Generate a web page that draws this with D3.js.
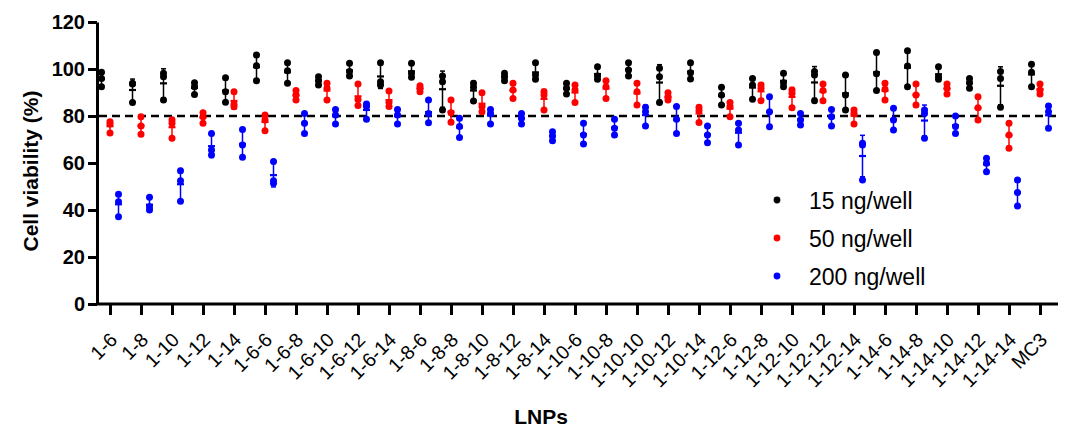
<!DOCTYPE html>
<html>
<head>
<meta charset="utf-8">
<script src="https://cdn.jsdelivr.net/npm/d3@7"></script>
<style>
  body { margin: 0; background: #fff; }
  svg text { font-family: Arial, "Liberation Sans", sans-serif; }
</style>
</head>
<body>
<svg id="chart" width="1067" height="432"></svg>
<script>
// LNP names along the x axis
var lnps = ["1-6","1-8","1-10","1-12","1-14","1-6-6","1-6-8","1-6-10","1-6-12","1-6-14",
    "1-8-6","1-8-8","1-8-10","1-8-12","1-8-14","1-10-6","1-10-8","1-10-10","1-10-12","1-10-14",
    "1-12-6","1-12-8","1-12-10","1-12-12","1-12-14","1-14-6","1-14-8","1-14-10","1-14-12","1-14-14","MC3"];

// triplicate viability values (%) per LNP
var ng15 = [
    [98.6,96.0,92.5],[93.9,93.6,85.7],[98.2,96.7,86.8],[94.2,92.5,89.2],[96.3,90.3,85.8],
    [106.0,101.4,95.0],[102.7,99.3,93.9],[96.7,95.0,93.2],[102.4,98.9,97.0],[102.7,94.6,93.2],
    [102.4,98.2,96.5],[97.0,94.6,82.6],[93.9,92.2,86.4],[98.2,96.7,95.0],[102.7,97.4,95.6],
    [93.9,91.8,89.4],[101.0,97.0,95.6],[102.7,99.6,97.0],[100.3,96.7,85.7],[102.7,98.4,95.7],
    [92.2,88.9,84.7],[96.0,93.2,87.1],[98.2,94.2,92.5],[98.9,97.4,86.5],[97.4,88.9,82.6],
    [107.0,98.0,90.8],[107.8,101.3,92.5],[101.0,96.7,95.6],[96.0,94.2,91.8],[98.9,96.0,83.7],
    [102.0,98.6,92.5]];
var ng50 = [
    [77.6,76.6,72.8],[79.7,75.7,72.2],[78.3,76.9,70.5],[81.4,79.7,76.9],[90.3,85.0,83.9],
    [80.4,78.3,73.7],[90.8,88.9,86.8],[93.9,91.8,86.8],[93.6,87.0,84.5],[90.6,85.7,84.0],
    [92.9,91.8,90.3],[86.8,81.4,77.3],[89.9,84.0,81.8],[93.9,91.1,87.5],[90.3,88.9,82.6],
    [93.2,91.1,85.7],[95.0,92.5,87.5],[93.9,90.3,84.7],[89.9,88.0,86.8],[83.7,82.3,77.2],
    [85.7,84.0,79.7],[93.2,91.8,86.5],[91.1,89.7,83.5],[93.6,90.8,86.5],[82.6,81.1,76.6],
    [93.9,91.4,86.8],[93.6,88.9,84.7],[93.6,91.8,89.4],[88.2,83.5,78.3],[76.9,71.9,66.3],
    [93.6,91.1,89.4]];
var ng200 = [
    [46.7,43.5,37.1],[45.4,41.4,40.0],[56.7,52.5,43.7],[72.6,65.5,63.4],[74.3,67.7,62.4],
    [60.6,52.5,51.4],[81.1,76.9,72.6],[82.8,80.4,76.6],[85.1,84.0,78.6],[82.8,80.4,76.6],
    [86.8,81.1,77.1],[79.0,75.5,70.8],[82.8,81.1,76.6],[81.1,79.0,76.6],[73.3,71.5,69.5],
    [76.9,71.9,68.1],[78.6,74.8,71.9],[83.7,81.8,75.7],[84.0,78.6,72.6],[75.7,71.9,68.6],
    [76.9,74.0,67.7],[88.2,81.8,75.4],[81.1,78.3,76.2],[82.8,79.7,75.7],[68.4,67.7,52.8],
    [83.3,78.3,74.0],[82.6,81.1,70.5],[80.0,75.5,72.6],[62.0,59.9,56.3],[52.8,47.4,41.7],
    [84.3,81.8,74.8]];

var seriesNames = ["15 ng/well","50 ng/well","200 ng/well"];
var seriesColors = ["#000000","#ff0000","#0000ff"];
var yTicks = [0,20,40,60,80,100,120];
var threshold = 80;

var allSeries = [ng15, ng50, ng200];

var svg = d3.select("#chart");

var xScale = d3.scalePoint()
    .domain(lnps)
    .range([110, 1040]);

var yScale = d3.scaleLinear()
    .domain([0, 120])
    .range([304, 22]);

// small shift so the three doses sit side by side
var offset = d3.scalePoint()
    .domain([0,1,2])
    .range([-8.5, 8.5]);

// y axis
var yAxis = svg.append("g")
    .attr("transform", "translate(97,0)")
    .call(d3.axisLeft(yScale).tickValues(yTicks).tickSize(9).tickSizeOuter(0).tickPadding(3));
yAxis.select(".domain").attr("stroke-width", 3);
yAxis.selectAll(".tick line").attr("stroke-width", 3);
yAxis.selectAll(".tick text")
    .attr("font-size", 20)
    .attr("font-weight", "bold")
    .attr("fill", "#000");

// x axis
var xAxis = svg.append("g")
    .attr("transform", "translate(0,304)")
    .call(d3.axisBottom(xScale).tickSize(11).tickSizeOuter(0));
xAxis.select(".domain").remove();
xAxis.append("line")
    .attr("x1", 96).attr("x2", 1058)
    .attr("y1", 0).attr("y2", 0)
    .attr("stroke", "#000")
    .attr("stroke-width", 3);
xAxis.selectAll(".tick line").attr("stroke-width", 3);
xAxis.selectAll(".tick text")
    .attr("font-size", 19.5)
    .attr("fill", "#000")
    .attr("text-anchor", "end")
    .attr("x", 0).attr("y", 0).attr("dy", 0)
    .attr("transform", "translate(8,37) rotate(-45)");

// dashed 80% line
svg.append("line")
    .attr("x1", 99).attr("x2", 1056)
    .attr("y1", yScale(threshold)).attr("y2", yScale(threshold))
    .attr("stroke", "#000")
    .attr("stroke-width", 2.5)
    .style("stroke-dasharray", ("8, 5"));

// points, mean and SD for every LNP / dose
allSeries.forEach(function(series, s) {
    var col = seriesColors[s];
    var g = svg.append("g").attr("class", "dose" + s);

    series.forEach(function(vals, i) {
        var cx = xScale(lnps[i]) + offset(s);
        var m = d3.mean(vals);
        var sd = d3.deviation(vals);

        g.append("line")
            .attr("x1", cx).attr("x2", cx)
            .attr("y1", yScale(m - sd)).attr("y2", yScale(m + sd))
            .attr("stroke", col).attr("stroke-width", 1.5);
        [m - sd, m + sd].forEach(function(v) {
            g.append("line")
                .attr("x1", cx - 2.5).attr("x2", cx + 2.5)
                .attr("y1", yScale(v)).attr("y2", yScale(v))
                .attr("stroke", col).attr("stroke-width", 1.5);
        });

        g.selectAll(".pt" + i)
            .data(vals)
            .enter().append("circle")
            .attr("cx", cx)
            .attr("cy", function(d) { return yScale(d); })
            .attr("r", 3.5)
            .attr("fill", col);

        g.append("line")
            .attr("x1", cx - 3.5).attr("x2", cx + 3.5)
            .attr("y1", yScale(m)).attr("y2", yScale(m))
            .attr("stroke", col).attr("stroke-width", 2.2);
    });
});

// legend
var legend = svg.append("g").attr("transform", "translate(777,200)");
seriesNames.forEach(function(name, i) {
    legend.append("circle")
        .attr("cx", 0).attr("cy", i * 38)
        .attr("r", 3.4)
        .attr("fill", seriesColors[i]);
    legend.append("text")
        .attr("x", 32).attr("y", i * 38 + 9)
        .attr("font-size", 23)
        .attr("fill", "#000")
        .text(name);
});

// axis titles
svg.append("text")
    .attr("transform", "translate(38,171) rotate(-90)")
    .attr("text-anchor", "middle")
    .attr("font-size", 21)
    .attr("font-weight", "bold")
    .text("Cell viability (%)");

svg.append("text")
    .attr("x", 541).attr("y", 424)
    .attr("text-anchor", "middle")
    .attr("font-size", 21)
    .attr("font-weight", "bold")
    .text("LNPs");
</script>
</body>
</html>
